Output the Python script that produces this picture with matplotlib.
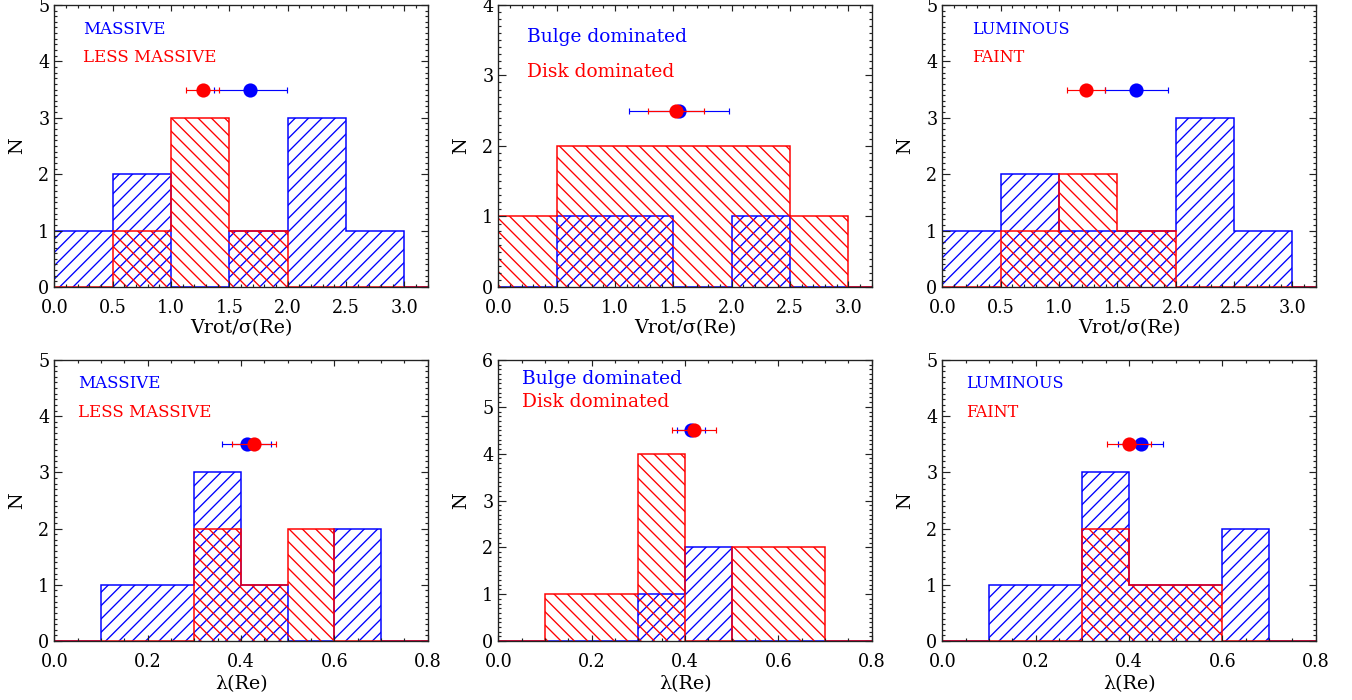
import numpy as np
import matplotlib.pyplot as plt
from matplotlib.ticker import MultipleLocator

plt.rcParams['font.family'] = 'DejaVu Serif'
plt.rcParams['hatch.linewidth'] = 0.8

# bin edges
vrot_edges = [0.0, 0.5, 1.0, 1.5, 2.0, 2.5, 3.0, 3.2]
lam_edges = [0.0, 0.1, 0.2, 0.3, 0.4, 0.5, 0.6, 0.7, 0.8]

# Vrot/sigma histograms
vrot_massive = [1, 2, 0, 1, 3, 1, 0]
vrot_less_massive = [0, 1, 3, 1, 0, 0, 0]
vrot_bulge = [0, 1, 1, 0, 1, 0, 0]
vrot_disk = [1, 2, 2, 2, 2, 1, 0]
vrot_luminous = [1, 2, 1, 1, 3, 1, 0]
vrot_faint = [0, 1, 2, 1, 0, 0, 0]

# lambda histograms
lam_massive = [0, 1, 1, 3, 1, 0, 2, 0]
lam_less_massive = [0, 0, 0, 2, 1, 2, 0, 0]
lam_bulge = [0, 0, 0, 1, 2, 0, 0, 0]
lam_disk = [0, 1, 1, 4, 0, 2, 2, 0]
lam_luminous = [0, 1, 1, 3, 1, 1, 2, 0]
lam_faint = [0, 0, 0, 2, 1, 1, 0, 0]

# means and errors (blue, red) and height of the points
vrot_blue_mean = [1.68, 1.55, 1.66]
vrot_blue_err = [0.31, 0.43, 0.27]
vrot_red_mean = [1.27, 1.52, 1.23]
vrot_red_err = [0.14, 0.24, 0.165]
vrot_point_y = [3.5, 2.5, 3.5]

lam_blue_mean = [0.412, 0.413, 0.425]
lam_blue_err = [0.052, 0.03, 0.048]
lam_red_mean = [0.428, 0.42, 0.399]
lam_red_err = [0.047, 0.047, 0.047]
lam_point_y = [3.5, 4.5, 3.5]

labels_blue = ['MASSIVE', 'Bulge dominated', 'LUMINOUS']
labels_red = ['LESS MASSIVE', 'Disk dominated', 'FAINT']
label_size = [10, 11.2, 9.6]

top_ymax = [5, 4, 5]
bot_ymax = [5, 6, 5]

# text baselines (axes fraction)
top_text_y = [(0.897, 0.797), (0.870, 0.746), (0.897, 0.797)]
top_text_x = [0.077, 0.078, 0.079]
bot_text_y = [(0.899, 0.798), (0.915, 0.832), (0.899, 0.798)]
bot_text_x = [0.063, 0.063, 0.063]

BLUE = '#0000ff'
RED = '#ff0000'

fig = plt.figure(figsize=(1352 / 120, 700 / 120), dpi=120)

lefts = [0.0402, 0.3686, 0.697]
width = 0.2762


def style(ax, xmaj, xmin):
    ax.xaxis.set_major_locator(MultipleLocator(xmaj))
    ax.xaxis.set_minor_locator(MultipleLocator(xmin))
    ax.yaxis.set_major_locator(MultipleLocator(1))
    ax.yaxis.set_minor_locator(MultipleLocator(0.1))
    ax.tick_params(which='both', direction='in', top=True, right=True,
                   width=0.7, colors='#222222', labelcolor='black')
    ax.tick_params(axis='x', which='major', length=3.6, pad=7, labelsize=10.5)
    ax.tick_params(axis='y', which='major', length=4.5, pad=3, labelsize=10.5)
    ax.tick_params(which='minor', length=1.9)
    for s in ax.spines.values():
        s.set_linewidth(0.8)
        s.set_color('#222222')


def panel(ax, edges, blue, red, bm, be, rm, re_, py, lb, lr, tx, ty, fs):
    ax.stairs(blue, edges, baseline=0, fill=False, edgecolor=BLUE,
              linewidth=0.9, hatch='///', zorder=1)
    ax.stairs(red, edges, baseline=0, fill=False, edgecolor=RED,
              linewidth=0.9, hatch='\\\\\\', zorder=1.1)
    ax.errorbar([bm], [py], xerr=[be], fmt='o', color=BLUE, ms=7.5,
                elinewidth=0.7, capsize=1.8, capthick=0.7, zorder=3)
    ax.errorbar([rm], [py], xerr=[re_], fmt='o', color=RED, ms=7.5,
                elinewidth=0.7, capsize=1.8, capthick=0.7, zorder=3.1)
    ax.text(tx, ty[0], lb, color=BLUE, fontsize=fs, transform=ax.transAxes,
            ha='left', va='baseline')
    ax.text(tx, ty[1], lr, color=RED, fontsize=fs, transform=ax.transAxes,
            ha='left', va='baseline')
    ax.set_ylabel('N', fontsize=11.5)
    ax.yaxis.set_label_coords(-0.075, 0.5)


vrot_blue = [vrot_massive, vrot_bulge, vrot_luminous]
vrot_red = [vrot_less_massive, vrot_disk, vrot_faint]
lam_blue = [lam_massive, lam_bulge, lam_luminous]
lam_red = [lam_less_massive, lam_disk, lam_faint]

for i in range(3):
    ax = fig.add_axes([lefts[i], 0.59, width, 0.403])
    panel(ax, vrot_edges, vrot_blue[i], vrot_red[i], vrot_blue_mean[i],
          vrot_blue_err[i], vrot_red_mean[i], vrot_red_err[i], vrot_point_y[i],
          labels_blue[i], labels_red[i], top_text_x[i], top_text_y[i],
          label_size[i])
    ax.set_xlim(0, 3.2)
    ax.set_ylim(0, top_ymax[i])
    style(ax, 0.5, 0.1)
    ax.set_xticks(np.arange(0, 3.01, 0.5))
    ax.set_xticklabels(['%.1f' % v for v in np.arange(0, 3.01, 0.5)])
    ax.set_xlabel('Vrot/σ(Re)', fontsize=11.5)
    ax.xaxis.set_label_coords(0.5, -0.115)

    ax = fig.add_axes([lefts[i], 0.0843, width, 0.4014])
    panel(ax, lam_edges, lam_blue[i], lam_red[i], lam_blue_mean[i],
          lam_blue_err[i], lam_red_mean[i], lam_red_err[i], lam_point_y[i],
          labels_blue[i], labels_red[i], bot_text_x[i], bot_text_y[i],
          label_size[i])
    ax.set_xlim(0, 0.8)
    ax.set_ylim(0, bot_ymax[i])
    style(ax, 0.2, 0.05)
    ax.set_xticks(np.arange(0, 0.81, 0.2))
    ax.set_xticklabels(['%.1f' % v for v in np.arange(0, 0.81, 0.2)])
    ax.set_xlabel('λ(Re)', fontsize=11.5)
    ax.xaxis.set_label_coords(0.5, -0.12)

fig.savefig('out.png', dpi=120)
